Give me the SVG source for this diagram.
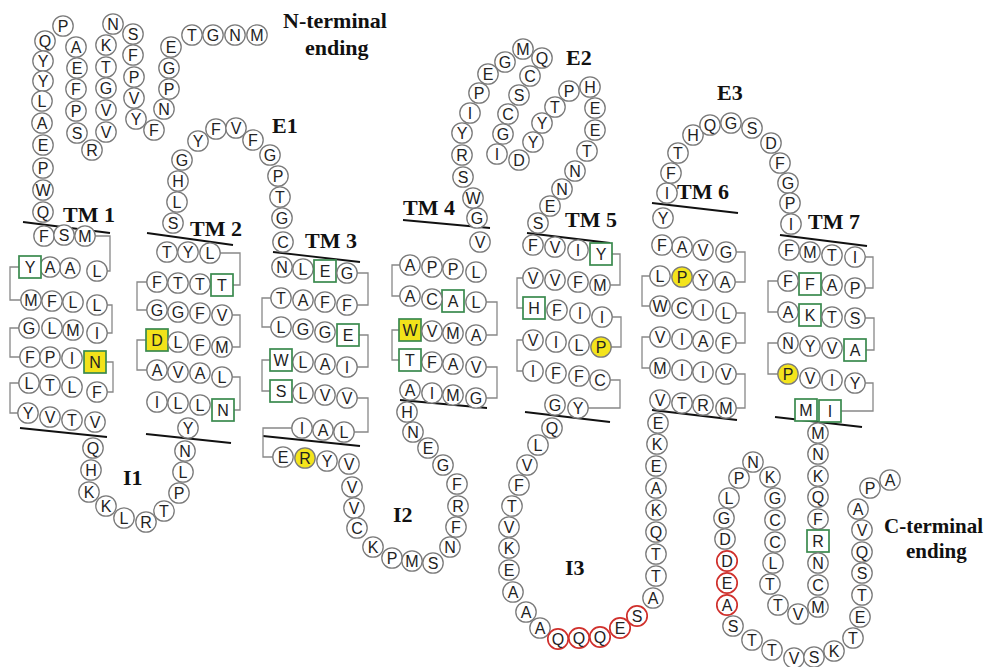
<svg xmlns="http://www.w3.org/2000/svg" width="993" height="667" viewBox="0 0 993 667">
<style>
circle{fill:#fff;stroke:#7a7a7a;stroke-width:1.3}
circle.yl{fill:#f4e41c}
circle.rd{stroke:#d0302c;stroke-width:1.7}
rect.bx{fill:#fff;stroke:#3a8a4e;stroke-width:1.7}
rect.bx.yl{fill:#f2e21a}
text{font-family:"Liberation Sans",Arial,sans-serif;font-size:16px;text-anchor:middle;fill:#222}
text.lbl{font-family:"Liberation Serif","Times New Roman",serif;font-weight:bold;font-size:22px;text-anchor:start;fill:#111}
text.lbl.sm{font-size:21px}
.mem line{stroke:#111;stroke-width:1.8}
.br path{fill:none;stroke:#888;stroke-width:1.3}
</style>
<rect width="993" height="667" fill="#fff"/>

<!-- membrane boundaries of the seven helices -->
<g id="membrane" class="mem">
<line x1="23" y1="222" x2="110" y2="233"/><line x1="20" y1="428" x2="107" y2="437"/>
<line x1="147" y1="233" x2="233" y2="245"/><line x1="146" y1="434" x2="231" y2="443"/>
<line x1="273" y1="252" x2="360" y2="262"/><line x1="263" y1="436" x2="360" y2="446"/>
<line x1="403" y1="220" x2="490" y2="228"/><line x1="400" y1="400" x2="487" y2="408"/>
<line x1="527" y1="233" x2="610" y2="243"/><line x1="525" y1="412" x2="610" y2="422"/>
<line x1="652" y1="203" x2="738" y2="213"/><line x1="652" y1="410" x2="737" y2="420"/>
<line x1="780" y1="235" x2="867" y2="246"/><line x1="775" y1="417" x2="862" y2="427"/>
</g>

<!-- row-to-row links inside each helix -->
<g id="connectors" class="br">
<path d="M95,236H110V271H107"/><path d="M19,267H10V300H21"/><path d="M107,305H112V333H107"/>
<path d="M19,328H10V357H20"/><path d="M106,362H113V392H107"/><path d="M19,383H10V413H18"/>
<path d="M220,253H240V285H233"/><path d="M147,282H137V310H147"/><path d="M232,315H240V347H232"/>
<path d="M146,340H137V370H147"/><path d="M232,377H240V410H234"/>
<path d="M357,273H368V305H357"/><path d="M271,298H262V327H271"/><path d="M359,335H368V367H357"/>
<path d="M270,360H262V391H270"/><path d="M357,398H368V432H354"/><path d="M292,428H263V457H273"/>
<path d="M400,265H392V296H400"/><path d="M486,302H497V335H486"/><path d="M399,330H392V360H399"/>
<path d="M486,367H497V398H486"/>
<path d="M612,254H620V285H610"/><path d="M523,278H517V308H523"/><path d="M612,317H621V347H611"/>
<path d="M523,340H517V371H523"/><path d="M610,380H620V408H588"/>
<path d="M736,252H745V282H735"/><path d="M650,276H642V306H650"/><path d="M736,313H745V343H736"/>
<path d="M650,337H642V368H650"/><path d="M736,374H745V408H736"/>
<path d="M865,257H873V288H865"/><path d="M778,281H768V312H778"/><path d="M865,318H874V350H866"/>
<path d="M778,343H768V374H778"/><path d="M865,383H873V411H841"/>
</g>

<!-- N-terminal tail -->
<g id="nterm">
<g id="r1" transform="translate(257 35)"><circle r="10.2"/><text y="6">M</text></g>
<g id="r2" transform="translate(235 35)"><circle r="10.2"/><text y="6">N</text></g>
<g id="r3" transform="translate(213 35)"><circle r="10.2"/><text y="6">G</text></g>
<g id="r4" transform="translate(192 35)"><circle r="10.2"/><text y="6">T</text></g>
<g id="r5" transform="translate(171 47)"><circle r="10.2"/><text y="6">E</text></g>
<g id="r6" transform="translate(169 68)"><circle r="10.2"/><text y="6">G</text></g>
<g id="r7" transform="translate(169 89)"><circle r="10.2"/><text y="6">P</text></g>
<g id="r8" transform="translate(164 109)"><circle r="10.2"/><text y="6">N</text></g>
<g id="r9" transform="translate(154 130)"><circle r="10.2"/><text y="6">F</text></g>
<g id="r10" transform="translate(136 119)"><circle r="10.2"/><text y="6">Y</text></g>
<g id="r11" transform="translate(134 98)"><circle r="10.2"/><text y="6">V</text></g>
<g id="r12" transform="translate(134 77)"><circle r="10.2"/><text y="6">P</text></g>
<g id="r13" transform="translate(133 55)"><circle r="10.2"/><text y="6">F</text></g>
<g id="r14" transform="translate(133 34)"><circle r="10.2"/><text y="6">S</text></g>
<g id="r15" transform="translate(113 24)"><circle r="10.2"/><text y="6">N</text></g>
<g id="r16" transform="translate(106 45)"><circle r="10.2"/><text y="6">K</text></g>
<g id="r17" transform="translate(106 67)"><circle r="10.2"/><text y="6">T</text></g>
<g id="r18" transform="translate(106 88)"><circle r="10.2"/><text y="6">G</text></g>
<g id="r19" transform="translate(106 110)"><circle r="10.2"/><text y="6">V</text></g>
<g id="r20" transform="translate(106 132)"><circle r="10.2"/><text y="6">V</text></g>
<g id="r21" transform="translate(92 150)"><circle r="10.2"/><text y="6">R</text></g>
<g id="r22" transform="translate(77 133)"><circle r="10.2"/><text y="6">S</text></g>
<g id="r23" transform="translate(76 111)"><circle r="10.2"/><text y="6">P</text></g>
<g id="r24" transform="translate(76 89)"><circle r="10.2"/><text y="6">F</text></g>
<g id="r25" transform="translate(77 68)"><circle r="10.2"/><text y="6">E</text></g>
<g id="r26" transform="translate(76 47)"><circle r="10.2"/><text y="6">A</text></g>
<g id="r27" transform="translate(63 26)"><circle r="10.2"/><text y="6">P</text></g>
<g id="r28" transform="translate(45 41)"><circle r="10.2"/><text y="6">Q</text></g>
<g id="r29" transform="translate(43 61)"><circle r="10.2"/><text y="6">Y</text></g>
<g id="r30" transform="translate(43 81)"><circle r="10.2"/><text y="6">Y</text></g>
<g id="r31" transform="translate(42 101)"><circle r="10.2"/><text y="6">L</text></g>
<g id="r32" transform="translate(42 123)"><circle r="10.2"/><text y="6">A</text></g>
<g id="r33" transform="translate(43 145)"><circle r="10.2"/><text y="6">E</text></g>
<g id="r34" transform="translate(43 168)"><circle r="10.2"/><text y="6">P</text></g>
<g id="r35" transform="translate(43 190)"><circle r="10.2"/><text y="6">W</text></g>
<g id="r36" transform="translate(43 212)"><circle r="10.2"/><text y="6">Q</text></g>
</g>

<!-- helix 1 -->
<g id="tm1">
<g id="r37" transform="translate(44 236)"><circle r="10.2"/><text y="6">F</text></g>
<g id="r38" transform="translate(64 235)"><circle r="10.2"/><text y="6">S</text></g>
<g id="r39" transform="translate(85 236)"><circle r="10.2"/><text y="6">M</text></g>
<g id="r40" transform="translate(97 271)"><circle r="10.2"/><text y="6">L</text></g>
<g id="r41" transform="translate(70 268)"><circle r="10.2"/><text y="6">A</text></g>
<g id="r42" transform="translate(50 267)"><circle r="10.2"/><text y="6">A</text></g>
<g id="r43" transform="translate(30 267)"><rect class="bx" x="-11" y="-11" width="22" height="22"/><text y="6">Y</text></g>
<g id="r44" transform="translate(31 300)"><circle r="10.2"/><text y="6">M</text></g>
<g id="r45" transform="translate(52 301)"><circle r="10.2"/><text y="6">F</text></g>
<g id="r46" transform="translate(73 302)"><circle r="10.2"/><text y="6">L</text></g>
<g id="r47" transform="translate(97 305)"><circle r="10.2"/><text y="6">L</text></g>
<g id="r48" transform="translate(97 333)"><circle r="10.2"/><text y="6">I</text></g>
<g id="r49" transform="translate(73 330)"><circle r="10.2"/><text y="6">M</text></g>
<g id="r50" transform="translate(52 328)"><circle r="10.2"/><text y="6">L</text></g>
<g id="r51" transform="translate(29 328)"><circle r="10.2"/><text y="6">G</text></g>
<g id="r52" transform="translate(30 357)"><circle r="10.2"/><text y="6">F</text></g>
<g id="r53" transform="translate(50 357)"><circle r="10.2"/><text y="6">P</text></g>
<g id="r54" transform="translate(72 358)"><circle r="10.2"/><text y="6">I</text></g>
<g id="r55" transform="translate(95 362)"><rect class="bx yl" x="-11" y="-11" width="22" height="22"/><text y="6">N</text></g>
<g id="r56" transform="translate(97 392)"><circle r="10.2"/><text y="6">F</text></g>
<g id="r57" transform="translate(72 387)"><circle r="10.2"/><text y="6">L</text></g>
<g id="r58" transform="translate(50 385)"><circle r="10.2"/><text y="6">T</text></g>
<g id="r59" transform="translate(29 383)"><circle r="10.2"/><text y="6">L</text></g>
<g id="r60" transform="translate(28 413)"><circle r="10.2"/><text y="6">Y</text></g>
<g id="r61" transform="translate(50 417)"><circle r="10.2"/><text y="6">V</text></g>
<g id="r62" transform="translate(72 420)"><circle r="10.2"/><text y="6">T</text></g>
<g id="r63" transform="translate(95 422)"><circle r="10.2"/><text y="6">V</text></g>
</g>

<!-- loop I1 -->
<g id="i1">
<g id="r64" transform="translate(93 448)"><circle r="10.2"/><text y="6">Q</text></g>
<g id="r65" transform="translate(91 470)"><circle r="10.2"/><text y="6">H</text></g>
<g id="r66" transform="translate(89 492)"><circle r="10.2"/><text y="6">K</text></g>
<g id="r67" transform="translate(106 506)"><circle r="10.2"/><text y="6">K</text></g>
<g id="r68" transform="translate(124 518)"><circle r="10.2"/><text y="6">L</text></g>
<g id="r69" transform="translate(146 522)"><circle r="10.2"/><text y="6">R</text></g>
<g id="r70" transform="translate(164 511)"><circle r="10.2"/><text y="6">T</text></g>
<g id="r71" transform="translate(179 493)"><circle r="10.2"/><text y="6">P</text></g>
<g id="r72" transform="translate(183 472)"><circle r="10.2"/><text y="6">L</text></g>
<g id="r73" transform="translate(185 451)"><circle r="10.2"/><text y="6">N</text></g>
</g>

<!-- helix 2 -->
<g id="tm2">
<g id="r74" transform="translate(188 428)"><circle r="10.2"/><text y="6">Y</text></g>
<g id="r75" transform="translate(157 402)"><circle r="10.2"/><text y="6">I</text></g>
<g id="r76" transform="translate(178 403)"><circle r="10.2"/><text y="6">L</text></g>
<g id="r77" transform="translate(200 405)"><circle r="10.2"/><text y="6">L</text></g>
<g id="r78" transform="translate(223 410)"><rect class="bx" x="-11" y="-11" width="22" height="22"/><text y="6">N</text></g>
<g id="r79" transform="translate(222 377)"><circle r="10.2"/><text y="6">L</text></g>
<g id="r80" transform="translate(200 373)"><circle r="10.2"/><text y="6">A</text></g>
<g id="r81" transform="translate(178 372)"><circle r="10.2"/><text y="6">V</text></g>
<g id="r82" transform="translate(157 370)"><circle r="10.2"/><text y="6">A</text></g>
<g id="r83" transform="translate(157 340)"><rect class="bx yl" x="-11" y="-11" width="22" height="22"/><text y="6">D</text></g>
<g id="r84" transform="translate(178 342)"><circle r="10.2"/><text y="6">L</text></g>
<g id="r85" transform="translate(200 345)"><circle r="10.2"/><text y="6">F</text></g>
<g id="r86" transform="translate(222 347)"><circle r="10.2"/><text y="6">M</text></g>
<g id="r87" transform="translate(222 315)"><circle r="10.2"/><text y="6">V</text></g>
<g id="r88" transform="translate(200 313)"><circle r="10.2"/><text y="6">F</text></g>
<g id="r89" transform="translate(178 312)"><circle r="10.2"/><text y="6">G</text></g>
<g id="r90" transform="translate(157 310)"><circle r="10.2"/><text y="6">G</text></g>
<g id="r91" transform="translate(157 282)"><circle r="10.2"/><text y="6">F</text></g>
<g id="r92" transform="translate(178 283)"><circle r="10.2"/><text y="6">T</text></g>
<g id="r93" transform="translate(200 284)"><circle r="10.2"/><text y="6">T</text></g>
<g id="r94" transform="translate(222 285)"><rect class="bx" x="-11" y="-11" width="22" height="22"/><text y="6">T</text></g>
<g id="r95" transform="translate(210 253)"><circle r="10.2"/><text y="6">L</text></g>
<g id="r96" transform="translate(188 252)"><circle r="10.2"/><text y="6">Y</text></g>
<g id="r97" transform="translate(167 252)"><circle r="10.2"/><text y="6">T</text></g>
</g>

<!-- loop E1 -->
<g id="e1">
<g id="r98" transform="translate(173 223)"><circle r="10.2"/><text y="6">S</text></g>
<g id="r99" transform="translate(177 202)"><circle r="10.2"/><text y="6">L</text></g>
<g id="r100" transform="translate(178 181)"><circle r="10.2"/><text y="6">H</text></g>
<g id="r101" transform="translate(182 160)"><circle r="10.2"/><text y="6">G</text></g>
<g id="r102" transform="translate(198 141)"><circle r="10.2"/><text y="6">Y</text></g>
<g id="r103" transform="translate(216 129)"><circle r="10.2"/><text y="6">F</text></g>
<g id="r104" transform="translate(236 128)"><circle r="10.2"/><text y="6">V</text></g>
<g id="r105" transform="translate(253 140)"><circle r="10.2"/><text y="6">F</text></g>
<g id="r106" transform="translate(270 155)"><circle r="10.2"/><text y="6">G</text></g>
<g id="r107" transform="translate(278 176)"><circle r="10.2"/><text y="6">P</text></g>
<g id="r108" transform="translate(280 197)"><circle r="10.2"/><text y="6">T</text></g>
<g id="r109" transform="translate(282 218)"><circle r="10.2"/><text y="6">G</text></g>
</g>

<!-- helix 3 -->
<g id="tm3">
<g id="r110" transform="translate(283 242)"><circle r="10.2"/><text y="6">C</text></g>
<g id="r111" transform="translate(282 267)"><circle r="10.2"/><text y="6">N</text></g>
<g id="r112" transform="translate(303 269)"><circle r="10.2"/><text y="6">L</text></g>
<g id="r113" transform="translate(325 271)"><rect class="bx" x="-11" y="-11" width="22" height="22"/><text y="6">E</text></g>
<g id="r114" transform="translate(347 273)"><circle r="10.2"/><text y="6">G</text></g>
<g id="r115" transform="translate(347 305)"><circle r="10.2"/><text y="6">F</text></g>
<g id="r116" transform="translate(325 302)"><circle r="10.2"/><text y="6">F</text></g>
<g id="r117" transform="translate(303 300)"><circle r="10.2"/><text y="6">A</text></g>
<g id="r118" transform="translate(281 298)"><circle r="10.2"/><text y="6">T</text></g>
<g id="r119" transform="translate(281 327)"><circle r="10.2"/><text y="6">L</text></g>
<g id="r120" transform="translate(303 329)"><circle r="10.2"/><text y="6">G</text></g>
<g id="r121" transform="translate(325 332)"><circle r="10.2"/><text y="6">G</text></g>
<g id="r122" transform="translate(348 335)"><rect class="bx" x="-11" y="-11" width="22" height="22"/><text y="6">E</text></g>
<g id="r123" transform="translate(347 367)"><circle r="10.2"/><text y="6">I</text></g>
<g id="r124" transform="translate(325 364)"><circle r="10.2"/><text y="6">A</text></g>
<g id="r125" transform="translate(303 362)"><circle r="10.2"/><text y="6">L</text></g>
<g id="r126" transform="translate(281 360)"><rect class="bx" x="-11" y="-11" width="22" height="22"/><text y="6">W</text></g>
<g id="r127" transform="translate(281 391)"><rect class="bx" x="-11" y="-11" width="22" height="22"/><text y="6">S</text></g>
<g id="r128" transform="translate(303 393)"><circle r="10.2"/><text y="6">L</text></g>
<g id="r129" transform="translate(325 395)"><circle r="10.2"/><text y="6">V</text></g>
<g id="r130" transform="translate(347 398)"><circle r="10.2"/><text y="6">V</text></g>
<g id="r131" transform="translate(344 432)"><circle r="10.2"/><text y="6">L</text></g>
<g id="r132" transform="translate(323 430)"><circle r="10.2"/><text y="6">A</text></g>
<g id="r133" transform="translate(302 428)"><circle r="10.2"/><text y="6">I</text></g>
</g>

<!-- loop I2 -->
<g id="i2">
<g id="r134" transform="translate(283 457)"><circle r="10.2"/><text y="6">E</text></g>
<g id="r135" transform="translate(305 458)"><circle class="yl" r="10.2"/><text y="6">R</text></g>
<g id="r136" transform="translate(327 461)"><circle r="10.2"/><text y="6">Y</text></g>
<g id="r137" transform="translate(349 464)"><circle r="10.2"/><text y="6">V</text></g>
<g id="r138" transform="translate(352 487)"><circle r="10.2"/><text y="6">V</text></g>
<g id="r139" transform="translate(354 508)"><circle r="10.2"/><text y="6">V</text></g>
<g id="r140" transform="translate(357 528)"><circle r="10.2"/><text y="6">C</text></g>
<g id="r141" transform="translate(373 547)"><circle r="10.2"/><text y="6">K</text></g>
<g id="r142" transform="translate(392 558)"><circle r="10.2"/><text y="6">P</text></g>
<g id="r143" transform="translate(412 561)"><circle r="10.2"/><text y="6">M</text></g>
<g id="r144" transform="translate(433 563)"><circle r="10.2"/><text y="6">S</text></g>
<g id="r145" transform="translate(450 547)"><circle r="10.2"/><text y="6">N</text></g>
<g id="r146" transform="translate(456 527)"><circle r="10.2"/><text y="6">F</text></g>
<g id="r147" transform="translate(458 506)"><circle r="10.2"/><text y="6">R</text></g>
<g id="r148" transform="translate(457 484)"><circle r="10.2"/><text y="6">F</text></g>
<g id="r149" transform="translate(443 465)"><circle r="10.2"/><text y="6">G</text></g>
<g id="r150" transform="translate(428 448)"><circle r="10.2"/><text y="6">E</text></g>
<g id="r151" transform="translate(413 432)"><circle r="10.2"/><text y="6">N</text></g>
<g id="r152" transform="translate(407 412)"><circle r="10.2"/><text y="6">H</text></g>
</g>

<!-- helix 4 -->
<g id="tm4">
<g id="r153" transform="translate(410 390)"><circle r="10.2"/><text y="6">A</text></g>
<g id="r154" transform="translate(432 393)"><circle r="10.2"/><text y="6">I</text></g>
<g id="r155" transform="translate(453 395)"><circle r="10.2"/><text y="6">M</text></g>
<g id="r156" transform="translate(476 398)"><circle r="10.2"/><text y="6">G</text></g>
<g id="r157" transform="translate(476 367)"><circle r="10.2"/><text y="6">V</text></g>
<g id="r158" transform="translate(453 364)"><circle r="10.2"/><text y="6">A</text></g>
<g id="r159" transform="translate(432 362)"><circle r="10.2"/><text y="6">F</text></g>
<g id="r160" transform="translate(410 360)"><rect class="bx" x="-11" y="-11" width="22" height="22"/><text y="6">T</text></g>
<g id="r161" transform="translate(410 330)"><rect class="bx yl" x="-11" y="-11" width="22" height="22"/><text y="6">W</text></g>
<g id="r162" transform="translate(432 331)"><circle r="10.2"/><text y="6">V</text></g>
<g id="r163" transform="translate(453 333)"><circle r="10.2"/><text y="6">M</text></g>
<g id="r164" transform="translate(476 335)"><circle r="10.2"/><text y="6">A</text></g>
<g id="r165" transform="translate(476 302)"><circle r="10.2"/><text y="6">L</text></g>
<g id="r166" transform="translate(453 301)"><rect class="bx" x="-11" y="-11" width="22" height="22"/><text y="6">A</text></g>
<g id="r167" transform="translate(432 299)"><circle r="10.2"/><text y="6">C</text></g>
<g id="r168" transform="translate(410 296)"><circle r="10.2"/><text y="6">A</text></g>
<g id="r169" transform="translate(410 265)"><circle r="10.2"/><text y="6">A</text></g>
<g id="r170" transform="translate(432 267)"><circle r="10.2"/><text y="6">P</text></g>
<g id="r171" transform="translate(453 269)"><circle r="10.2"/><text y="6">P</text></g>
<g id="r172" transform="translate(476 272)"><circle r="10.2"/><text y="6">L</text></g>
<g id="r173" transform="translate(480 242)"><circle r="10.2"/><text y="6">V</text></g>
</g>

<!-- loop E2 -->
<g id="e2">
<g id="r174" transform="translate(477 218)"><circle r="10.2"/><text y="6">G</text></g>
<g id="r175" transform="translate(473 198)"><circle r="10.2"/><text y="6">W</text></g>
<g id="r176" transform="translate(463 177)"><circle r="10.2"/><text y="6">S</text></g>
<g id="r177" transform="translate(462 155)"><circle r="10.2"/><text y="6">R</text></g>
<g id="r178" transform="translate(462 133)"><circle r="10.2"/><text y="6">Y</text></g>
<g id="r179" transform="translate(470 113)"><circle r="10.2"/><text y="6">I</text></g>
<g id="r180" transform="translate(479 93)"><circle r="10.2"/><text y="6">P</text></g>
<g id="r181" transform="translate(488 74)"><circle r="10.2"/><text y="6">E</text></g>
<g id="r182" transform="translate(505 62)"><circle r="10.2"/><text y="6">G</text></g>
<g id="r183" transform="translate(523 49)"><circle r="10.2"/><text y="6">M</text></g>
<g id="r184" transform="translate(542 58)"><circle r="10.2"/><text y="6">Q</text></g>
<g id="r185" transform="translate(530 76)"><circle r="10.2"/><text y="6">C</text></g>
<g id="r186" transform="translate(519 95)"><circle r="10.2"/><text y="6">S</text></g>
<g id="r187" transform="translate(508 114)"><circle r="10.2"/><text y="6">C</text></g>
<g id="r188" transform="translate(503 134)"><circle r="10.2"/><text y="6">G</text></g>
<g id="r189" transform="translate(497 154)"><circle r="10.2"/><text y="6">I</text></g>
<g id="r190" transform="translate(519 160)"><circle r="10.2"/><text y="6">D</text></g>
<g id="r191" transform="translate(533 142)"><circle r="10.2"/><text y="6">Y</text></g>
<g id="r192" transform="translate(542 123)"><circle r="10.2"/><text y="6">Y</text></g>
<g id="r193" transform="translate(555 107)"><circle r="10.2"/><text y="6">T</text></g>
<g id="r194" transform="translate(569 91)"><circle r="10.2"/><text y="6">P</text></g>
<g id="r195" transform="translate(590 87)"><circle r="10.2"/><text y="6">H</text></g>
<g id="r196" transform="translate(595 108)"><circle r="10.2"/><text y="6">E</text></g>
<g id="r197" transform="translate(595 130)"><circle r="10.2"/><text y="6">E</text></g>
<g id="r198" transform="translate(587 151)"><circle r="10.2"/><text y="6">T</text></g>
<g id="r199" transform="translate(575 171)"><circle r="10.2"/><text y="6">N</text></g>
<g id="r200" transform="translate(562 189)"><circle r="10.2"/><text y="6">N</text></g>
<g id="r201" transform="translate(550 206)"><circle r="10.2"/><text y="6">E</text></g>
<g id="r202" transform="translate(538 223)"><circle r="10.2"/><text y="6">S</text></g>
</g>

<!-- helix 5 -->
<g id="tm5">
<g id="r203" transform="translate(533 245)"><circle r="10.2"/><text y="6">F</text></g>
<g id="r204" transform="translate(555 247)"><circle r="10.2"/><text y="6">V</text></g>
<g id="r205" transform="translate(578 250)"><circle r="10.2"/><text y="6">I</text></g>
<g id="r206" transform="translate(601 254)"><rect class="bx" x="-11" y="-11" width="22" height="22"/><text y="6">Y</text></g>
<g id="r207" transform="translate(600 285)"><circle r="10.2"/><text y="6">M</text></g>
<g id="r208" transform="translate(578 282)"><circle r="10.2"/><text y="6">F</text></g>
<g id="r209" transform="translate(555 280)"><circle r="10.2"/><text y="6">V</text></g>
<g id="r210" transform="translate(533 278)"><circle r="10.2"/><text y="6">V</text></g>
<g id="r211" transform="translate(534 308)"><rect class="bx" x="-11" y="-11" width="22" height="22"/><text y="6">H</text></g>
<g id="r212" transform="translate(557 310)"><circle r="10.2"/><text y="6">F</text></g>
<g id="r213" transform="translate(580 313)"><circle r="10.2"/><text y="6">I</text></g>
<g id="r214" transform="translate(602 317)"><circle r="10.2"/><text y="6">I</text></g>
<g id="r215" transform="translate(601 347)"><circle class="yl" r="10.2"/><text y="6">P</text></g>
<g id="r216" transform="translate(579 345)"><circle r="10.2"/><text y="6">L</text></g>
<g id="r217" transform="translate(556 342)"><circle r="10.2"/><text y="6">I</text></g>
<g id="r218" transform="translate(533 340)"><circle r="10.2"/><text y="6">V</text></g>
<g id="r219" transform="translate(533 371)"><circle r="10.2"/><text y="6">I</text></g>
<g id="r220" transform="translate(556 373)"><circle r="10.2"/><text y="6">F</text></g>
<g id="r221" transform="translate(579 376)"><circle r="10.2"/><text y="6">F</text></g>
<g id="r222" transform="translate(600 380)"><circle r="10.2"/><text y="6">C</text></g>
<g id="r223" transform="translate(578 408)"><circle r="10.2"/><text y="6">Y</text></g>
<g id="r224" transform="translate(555 405)"><circle r="10.2"/><text y="6">G</text></g>
</g>

<!-- loop I3 -->
<g id="i3">
<g id="r225" transform="translate(552 428)"><circle r="10.2"/><text y="6">Q</text></g>
<g id="r226" transform="translate(538 445)"><circle r="10.2"/><text y="6">L</text></g>
<g id="r227" transform="translate(527 465)"><circle r="10.2"/><text y="6">V</text></g>
<g id="r228" transform="translate(519 485)"><circle r="10.2"/><text y="6">F</text></g>
<g id="r229" transform="translate(512 506)"><circle r="10.2"/><text y="6">T</text></g>
<g id="r230" transform="translate(509 527)"><circle r="10.2"/><text y="6">V</text></g>
<g id="r231" transform="translate(509 548)"><circle r="10.2"/><text y="6">K</text></g>
<g id="r232" transform="translate(509 570)"><circle r="10.2"/><text y="6">E</text></g>
<g id="r233" transform="translate(513 592)"><circle r="10.2"/><text y="6">A</text></g>
<g id="r234" transform="translate(526 612)"><circle r="10.2"/><text y="6">A</text></g>
<g id="r235" transform="translate(540 628)"><circle r="10.2"/><text y="6">A</text></g>
<g id="r236" transform="translate(558 639)"><circle class="rd" r="10.2"/><text y="6">Q</text></g>
<g id="r237" transform="translate(579 638)"><circle class="rd" r="10.2"/><text y="6">Q</text></g>
<g id="r238" transform="translate(600 637)"><circle class="rd" r="10.2"/><text y="6">Q</text></g>
<g id="r239" transform="translate(620 628)"><circle class="rd" r="10.2"/><text y="6">E</text></g>
<g id="r240" transform="translate(637 616)"><circle class="rd" r="10.2"/><text y="6">S</text></g>
<g id="r241" transform="translate(653 598)"><circle r="10.2"/><text y="6">A</text></g>
<g id="r242" transform="translate(656 576)"><circle r="10.2"/><text y="6">T</text></g>
<g id="r243" transform="translate(656 554)"><circle r="10.2"/><text y="6">T</text></g>
<g id="r244" transform="translate(656 532)"><circle r="10.2"/><text y="6">Q</text></g>
<g id="r245" transform="translate(656 510)"><circle r="10.2"/><text y="6">K</text></g>
<g id="r246" transform="translate(656 488)"><circle r="10.2"/><text y="6">A</text></g>
<g id="r247" transform="translate(656 466)"><circle r="10.2"/><text y="6">E</text></g>
<g id="r248" transform="translate(657 444)"><circle r="10.2"/><text y="6">K</text></g>
<g id="r249" transform="translate(658 423)"><circle r="10.2"/><text y="6">E</text></g>
</g>

<!-- helix 6 -->
<g id="tm6">
<g id="r250" transform="translate(660 400)"><circle r="10.2"/><text y="6">V</text></g>
<g id="r251" transform="translate(682 403)"><circle r="10.2"/><text y="6">T</text></g>
<g id="r252" transform="translate(703 405)"><circle r="10.2"/><text y="6">R</text></g>
<g id="r253" transform="translate(726 408)"><circle r="10.2"/><text y="6">M</text></g>
<g id="r254" transform="translate(726 374)"><circle r="10.2"/><text y="6">V</text></g>
<g id="r255" transform="translate(703 372)"><circle r="10.2"/><text y="6">I</text></g>
<g id="r256" transform="translate(682 370)"><circle r="10.2"/><text y="6">I</text></g>
<g id="r257" transform="translate(660 368)"><circle r="10.2"/><text y="6">M</text></g>
<g id="r258" transform="translate(660 337)"><circle r="10.2"/><text y="6">V</text></g>
<g id="r259" transform="translate(682 339)"><circle r="10.2"/><text y="6">I</text></g>
<g id="r260" transform="translate(703 341)"><circle r="10.2"/><text y="6">A</text></g>
<g id="r261" transform="translate(726 343)"><circle r="10.2"/><text y="6">F</text></g>
<g id="r262" transform="translate(726 313)"><circle r="10.2"/><text y="6">L</text></g>
<g id="r263" transform="translate(703 310)"><circle r="10.2"/><text y="6">I</text></g>
<g id="r264" transform="translate(682 308)"><circle r="10.2"/><text y="6">C</text></g>
<g id="r265" transform="translate(660 306)"><circle r="10.2"/><text y="6">W</text></g>
<g id="r266" transform="translate(660 276)"><circle r="10.2"/><text y="6">L</text></g>
<g id="r267" transform="translate(682 277)"><circle class="yl" r="10.2"/><text y="6">P</text></g>
<g id="r268" transform="translate(703 280)"><circle r="10.2"/><text y="6">Y</text></g>
<g id="r269" transform="translate(725 282)"><circle r="10.2"/><text y="6">A</text></g>
<g id="r270" transform="translate(726 252)"><circle r="10.2"/><text y="6">G</text></g>
<g id="r271" transform="translate(703 250)"><circle r="10.2"/><text y="6">V</text></g>
<g id="r272" transform="translate(682 247)"><circle r="10.2"/><text y="6">A</text></g>
<g id="r273" transform="translate(662 245)"><circle r="10.2"/><text y="6">F</text></g>
<g id="r274" transform="translate(663 218)"><circle r="10.2"/><text y="6">Y</text></g>
</g>

<!-- loop E3 -->
<g id="e3">
<g id="r275" transform="translate(667 193)"><circle r="10.2"/><text y="6">I</text></g>
<g id="r276" transform="translate(671 173)"><circle r="10.2"/><text y="6">F</text></g>
<g id="r277" transform="translate(678 153)"><circle r="10.2"/><text y="6">T</text></g>
<g id="r278" transform="translate(693 135)"><circle r="10.2"/><text y="6">H</text></g>
<g id="r279" transform="translate(710 125)"><circle r="10.2"/><text y="6">Q</text></g>
<g id="r280" transform="translate(731 123)"><circle r="10.2"/><text y="6">G</text></g>
<g id="r281" transform="translate(752 128)"><circle r="10.2"/><text y="6">S</text></g>
<g id="r282" transform="translate(771 143)"><circle r="10.2"/><text y="6">D</text></g>
<g id="r283" transform="translate(780 163)"><circle r="10.2"/><text y="6">F</text></g>
<g id="r284" transform="translate(788 183)"><circle r="10.2"/><text y="6">G</text></g>
<g id="r285" transform="translate(790 203)"><circle r="10.2"/><text y="6">P</text></g>
<g id="r286" transform="translate(791 224)"><circle r="10.2"/><text y="6">I</text></g>
</g>

<!-- helix 7 -->
<g id="tm7">
<g id="r287" transform="translate(789 250)"><circle r="10.2"/><text y="6">F</text></g>
<g id="r288" transform="translate(810 252)"><circle r="10.2"/><text y="6">M</text></g>
<g id="r289" transform="translate(832 255)"><circle r="10.2"/><text y="6">T</text></g>
<g id="r290" transform="translate(855 257)"><circle r="10.2"/><text y="6">I</text></g>
<g id="r291" transform="translate(855 288)"><circle r="10.2"/><text y="6">P</text></g>
<g id="r292" transform="translate(832 285)"><circle r="10.2"/><text y="6">A</text></g>
<g id="r293" transform="translate(810 284)"><rect class="bx" x="-11" y="-11" width="22" height="22"/><text y="6">F</text></g>
<g id="r294" transform="translate(788 281)"><circle r="10.2"/><text y="6">F</text></g>
<g id="r295" transform="translate(788 312)"><circle r="10.2"/><text y="6">A</text></g>
<g id="r296" transform="translate(810 315)"><rect class="bx" x="-11" y="-11" width="22" height="22"/><text y="6">K</text></g>
<g id="r297" transform="translate(832 317)"><circle r="10.2"/><text y="6">T</text></g>
<g id="r298" transform="translate(855 318)"><circle r="10.2"/><text y="6">S</text></g>
<g id="r299" transform="translate(855 350)"><rect class="bx" x="-11" y="-11" width="22" height="22"/><text y="6">A</text></g>
<g id="r300" transform="translate(832 348)"><circle r="10.2"/><text y="6">V</text></g>
<g id="r301" transform="translate(810 346)"><circle r="10.2"/><text y="6">Y</text></g>
<g id="r302" transform="translate(788 343)"><circle r="10.2"/><text y="6">N</text></g>
<g id="r303" transform="translate(788 374)"><circle class="yl" r="10.2"/><text y="6">P</text></g>
<g id="r304" transform="translate(810 378)"><circle r="10.2"/><text y="6">V</text></g>
<g id="r305" transform="translate(832 380)"><circle r="10.2"/><text y="6">I</text></g>
<g id="r306" transform="translate(855 383)"><circle r="10.2"/><text y="6">Y</text></g>
<g id="r307" transform="translate(830 411)"><rect class="bx" x="-11" y="-11" width="22" height="22"/><text y="6">I</text></g>
<g id="r308" transform="translate(806 410)"><rect class="bx" x="-11" y="-11" width="22" height="22"/><text y="6">M</text></g>
</g>

<!-- C-terminal tail -->
<g id="cterm">
<g id="r309" transform="translate(818 433)"><circle r="10.2"/><text y="6">M</text></g>
<g id="r310" transform="translate(818 454)"><circle r="10.2"/><text y="6">N</text></g>
<g id="r311" transform="translate(818 476)"><circle r="10.2"/><text y="6">K</text></g>
<g id="r312" transform="translate(818 497)"><circle r="10.2"/><text y="6">Q</text></g>
<g id="r313" transform="translate(818 519)"><circle r="10.2"/><text y="6">F</text></g>
<g id="r314" transform="translate(818 541)"><rect class="bx" x="-11" y="-11" width="22" height="22"/><text y="6">R</text></g>
<g id="r315" transform="translate(818 563)"><circle r="10.2"/><text y="6">N</text></g>
<g id="r316" transform="translate(818 585)"><circle r="10.2"/><text y="6">C</text></g>
<g id="r317" transform="translate(818 607)"><circle r="10.2"/><text y="6">M</text></g>
<g id="r318" transform="translate(798 614)"><circle r="10.2"/><text y="6">V</text></g>
<g id="r319" transform="translate(778 605)"><circle r="10.2"/><text y="6">T</text></g>
<g id="r320" transform="translate(770 584)"><circle r="10.2"/><text y="6">T</text></g>
<g id="r321" transform="translate(773 563)"><circle r="10.2"/><text y="6">L</text></g>
<g id="r322" transform="translate(775 542)"><circle r="10.2"/><text y="6">C</text></g>
<g id="r323" transform="translate(775 520)"><circle r="10.2"/><text y="6">C</text></g>
<g id="r324" transform="translate(775 498)"><circle r="10.2"/><text y="6">G</text></g>
<g id="r325" transform="translate(770 477)"><circle r="10.2"/><text y="6">K</text></g>
<g id="r326" transform="translate(753 462)"><circle r="10.2"/><text y="6">N</text></g>
<g id="r327" transform="translate(739 478)"><circle r="10.2"/><text y="6">P</text></g>
<g id="r328" transform="translate(729 498)"><circle r="10.2"/><text y="6">L</text></g>
<g id="r329" transform="translate(724 518)"><circle r="10.2"/><text y="6">G</text></g>
<g id="r330" transform="translate(725 539)"><circle r="10.2"/><text y="6">D</text></g>
<g id="r331" transform="translate(727 561)"><circle class="rd" r="10.2"/><text y="6">D</text></g>
<g id="r332" transform="translate(727 583)"><circle class="rd" r="10.2"/><text y="6">E</text></g>
<g id="r333" transform="translate(727 605)"><circle class="rd" r="10.2"/><text y="6">A</text></g>
<g id="r334" transform="translate(733 626)"><circle r="10.2"/><text y="6">S</text></g>
<g id="r335" transform="translate(752 640)"><circle r="10.2"/><text y="6">T</text></g>
<g id="r336" transform="translate(772 650)"><circle r="10.2"/><text y="6">T</text></g>
<g id="r337" transform="translate(794 658)"><circle r="10.2"/><text y="6">V</text></g>
<g id="r338" transform="translate(814 657)"><circle r="10.2"/><text y="6">S</text></g>
<g id="r339" transform="translate(834 651)"><circle r="10.2"/><text y="6">K</text></g>
<g id="r340" transform="translate(853 638)"><circle r="10.2"/><text y="6">T</text></g>
<g id="r341" transform="translate(860 617)"><circle r="10.2"/><text y="6">E</text></g>
<g id="r342" transform="translate(862 595)"><circle r="10.2"/><text y="6">T</text></g>
<g id="r343" transform="translate(862 573)"><circle r="10.2"/><text y="6">S</text></g>
<g id="r344" transform="translate(862 552)"><circle r="10.2"/><text y="6">Q</text></g>
<g id="r345" transform="translate(862 530)"><circle r="10.2"/><text y="6">V</text></g>
<g id="r346" transform="translate(858 509)"><circle r="10.2"/><text y="6">A</text></g>
<g id="r347" transform="translate(870 488)"><circle r="10.2"/><text y="6">P</text></g>
<g id="r348" transform="translate(890 480)"><circle r="10.2"/><text y="6">A</text></g>
</g>

<!-- region labels -->
<g id="labels">
<text class="lbl" x="283" y="28">N-terminal</text>
<text class="lbl" x="305" y="55">ending</text>
<text class="lbl" x="63" y="222">TM 1</text>
<text class="lbl" x="190" y="236">TM 2</text>
<text class="lbl" x="305" y="248">TM 3</text>
<text class="lbl" x="403" y="215">TM 4</text>
<text class="lbl" x="565" y="227">TM 5</text>
<text class="lbl" x="677" y="199">TM 6</text>
<text class="lbl" x="808" y="229">TM 7</text>
<text class="lbl" x="272" y="133">E1</text>
<text class="lbl" x="566" y="65">E2</text>
<text class="lbl" x="717" y="100">E3</text>
<text class="lbl" x="123" y="485">I1</text>
<text class="lbl" x="393" y="522">I2</text>
<text class="lbl" x="565" y="575">I3</text>
<text class="lbl sm" x="884" y="533">C-terminal</text>
<text class="lbl sm" x="906" y="558">ending</text>
</g>
</svg>
